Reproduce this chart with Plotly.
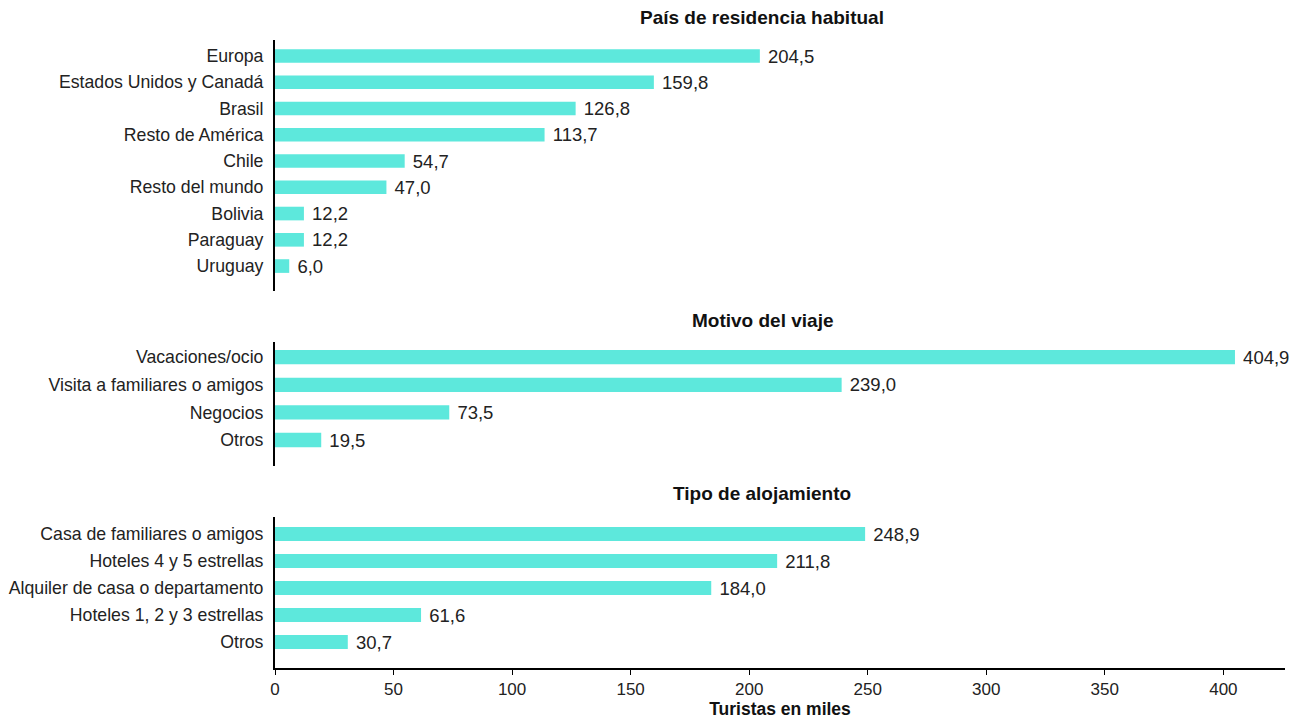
import plotly.graph_objects as go

pais_cats = ["Europa", "Estados Unidos y Canadá", "Brasil", "Resto de América", "Chile",
             "Resto del mundo", "Bolivia", "Paraguay", "Uruguay"]
pais_vals = [204.5, 159.8, 126.8, 113.7, 54.7, 47.0, 12.2, 12.2, 6.0]

motivo_cats = ["Vacaciones/ocio", "Visita a familiares o amigos", "Negocios", "Otros"]
motivo_vals = [404.9, 239.0, 73.5, 19.5]

aloj_cats = ["Casa de familiares o amigos", "Hoteles 4 y 5 estrellas",
             "Alquiler de casa o departamento", "Hoteles 1, 2 y 3 estrellas", "Otros"]
aloj_vals = [248.9, 211.8, 184.0, 61.6, 30.7]

titles = ["País de residencia habitual", "Motivo del viaje", "Tipo de alojamiento"]
x_ticks = [0, 50, 100, 150, 200, 250, 300, 350, 400]

COLOR = "#5de8dc"
FONT = "Liberation Sans, Arial, sans-serif"

W, H = 1304, 720
OFF = 8  # page body offset
PL, PR, PT, PB = 275, 1285, 40, 668
L = PL - OFF
R = W - (PR - OFF)
T = PT - OFF
B = H - (PB - OFF)
ph = PB - PT
pw = PR - PL

def dom(top_px, bot_px):
    return [(PB - bot_px) / ph, (PB - top_px) / ph]

groups = [
    (pais_cats, pais_vals, dom(40, 291), [8.95, -0.61]),
    (motivo_cats, motivo_vals, dom(342, 466), [3.94, -0.55]),
    (aloj_cats, aloj_vals, dom(517, 668), [4.96, -0.63]),
]

fig = go.Figure()
layout = dict(
    width=W, height=H,
    margin=dict(l=L, r=R, t=T, b=B, autoexpand=False),
    plot_bgcolor="white", paper_bgcolor="white",
    font=dict(family=FONT, size=17, color="#222222"),
    showlegend=False,
    bargap=0.47,
)

for i, (cats, vals, d, rng) in enumerate(groups):
    n = i + 1
    xa = "x" if n == 1 else f"x{n}"
    ya = "y" if n == 1 else f"y{n}"
    fig.add_trace(go.Bar(
        x=vals, y=list(range(len(cats))), orientation="h",
        marker=dict(color=COLOR, line=dict(width=0)),
        width=0.52,
        text=[" " + f"{v:.1f}".replace(".", ",") for v in vals],
        textposition="outside", cliponaxis=False, constraintext="none",
        textfont=dict(size=18.5, color="#222222", family=FONT),
        xaxis=xa, yaxis=ya, hoverinfo="skip",
    ))
    xkey = "xaxis" if n == 1 else f"xaxis{n}"
    ykey = "yaxis" if n == 1 else f"yaxis{n}"
    bottom = (n == 3)
    layout[xkey] = dict(
        anchor=ya, range=[0, 426], domain=[0, 1], automargin=False,
        showgrid=False, zeroline=False,
        showline=bottom, linecolor="black", linewidth=2,
        ticks="outside" if bottom else "", ticklen=5, tickwidth=1, tickcolor="black",
        showticklabels=bottom, tickvals=x_ticks,
        tickfont=dict(size=17, color="#222222"),
        fixedrange=True,
    )
    if n != 1:
        layout[xkey]["matches"] = "x"
    if bottom:
        layout[xkey]["title"] = dict(text="<b>Turistas en miles</b>", font=dict(size=17.5, color="#111111"), standoff=3)
    layout[ykey] = dict(
        anchor=xa, domain=d, range=rng, automargin=False,
        tickvals=list(range(len(cats))), ticktext=cats,
        showgrid=False, zeroline=False,
        showline=True, linecolor="black", linewidth=2,
        ticks="", ticklabelstandoff=6,
        tickfont=dict(size=17.7, color="#222222"),
        fixedrange=True,
    )

fig.update_layout(**layout)

title_y = [18, 320, 494]
for t, ypx in zip(titles, title_y):
    fig.add_annotation(
        text=f"<b>{t}</b>", xref="paper", yref="paper",
        x=(762 - PL) / pw, y=(PB - ypx) / ph,
        showarrow=False, xanchor="center", yanchor="middle",
        font=dict(size=19, color="#111111", family=FONT),
    )

fig.write_html("out.html")
